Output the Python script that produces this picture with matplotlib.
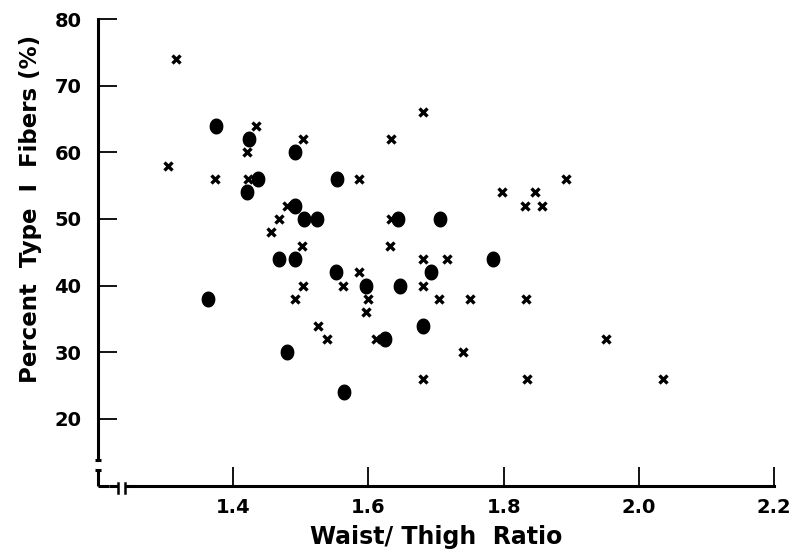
import numpy as np
import matplotlib.pyplot as plt
from matplotlib.path import Path

# dados: circulos cheios e cruzes
x_circulos = [1.375, 1.424, 1.492, 1.436, 1.553, 1.421, 1.491, 1.504, 1.524, 1.467,
              1.491, 1.552, 1.363, 1.480, 1.564, 1.644, 1.706, 1.785, 1.692, 1.597,
              1.646, 1.680, 1.625]
y_circulos = [64, 62, 60, 56, 56, 54, 52, 50, 50, 44,
              44, 42, 38, 30, 24, 50, 50, 44, 42, 40,
              40, 34, 32]

x_cruzes = [1.315, 1.433, 1.503, 1.420, 1.303, 1.373, 1.422, 1.479, 1.467, 1.456,
            1.502, 1.503, 1.563, 1.491, 1.526, 1.538, 1.680, 1.633, 1.586, 1.798,
            1.846, 1.832, 1.857, 1.892, 1.633, 1.632, 1.680, 1.716, 1.586, 1.600,
            1.704, 1.750, 1.833, 1.597, 1.611, 1.740, 1.680, 1.834, 1.952, 2.035,
            1.680]
y_cruzes = [74, 64, 62, 60, 58, 56, 56, 52, 50, 48,
            46, 40, 40, 38, 34, 32, 66, 62, 56, 54,
            54, 52, 52, 56, 50, 46, 44, 44, 42, 38,
            38, 38, 38, 36, 32, 30, 26, 26, 32, 26,
            40]

x_ticks = [1.4, 1.6, 1.8, 2.0, 2.2]
x_ticklabels = ['1.4', '1.6', '1.8', '2.0', '2.2']
y_ticks = [20, 30, 40, 50, 60, 70, 80]

plt.rcParams['font.family'] = 'DejaVu Sans'
plt.rcParams['font.weight'] = 'bold'

# circulo um pouco achatado (mais alto que largo), como no original
t = np.linspace(0, 2 * np.pi, 60)
elipse = Path(np.column_stack([0.85 * np.cos(t), np.sin(t)]), closed=True)

fig = plt.figure(figsize=(7.98, 5.54), dpi=100)
ax = fig.add_axes([0.1228, 0.1236, 0.8472, 0.8421])

ax.plot(x_circulos, y_circulos, linestyle='none', marker=elipse, markersize=10.5,
        color='black', clip_on=False)
ax.plot(x_cruzes, y_cruzes, linestyle='none', marker='x', markersize=6.2,
        markeredgewidth=2.4, color='black', clip_on=False)

ax.set_xlim(1.2, 2.2)
ax.set_ylim(10, 80)

ax.spines['top'].set_visible(False)
ax.spines['right'].set_visible(False)
for lado in ['left', 'bottom']:
    ax.spines[lado].set_linewidth(2.2)
ax.spines['left'].set_bounds(14.0, 80)
ax.spines['bottom'].set_bounds(1.247, 2.2)

ax.set_xticks(x_ticks)
ax.set_xticklabels(x_ticklabels)
ax.set_yticks(y_ticks)
ax.tick_params(axis='both', direction='in', length=14, width=1.3,
               labelsize=14, color='black')
ax.tick_params(axis='y', pad=12)
ax.tick_params(axis='x', pad=9)

# quebra dos eixos
k = dict(color='black', linewidth=2.2, clip_on=False, solid_capstyle='butt')
ax.plot([1.2, 1.2], [10, 12.4], **k)
ax.plot([1.2, 1.216], [10, 10], **k)
ax.plot([1.195, 1.205], [12.4, 12.4], **k)
ax.plot([1.195, 1.205], [13.9, 13.9], **k)
ax.plot([1.229, 1.229], [8.9, 10.4], color='black', linewidth=1.8, clip_on=False)
ax.plot([1.240, 1.240], [8.9, 10.4], color='black', linewidth=1.8, clip_on=False)
ax.plot([1.216, 1.229], [10, 10], **k)
ax.plot([1.240, 1.247], [10, 10], **k)

ax.set_xlabel('Waist/ Thigh  Ratio', fontsize=17, fontweight='bold', labelpad=6)
ax.set_ylabel('Percent  Type  I  Fibers (%)', fontsize=16.5, fontweight='bold')
ax.yaxis.set_label_coords(-0.083, 0.592)

fig.savefig('out.png', dpi=100)
